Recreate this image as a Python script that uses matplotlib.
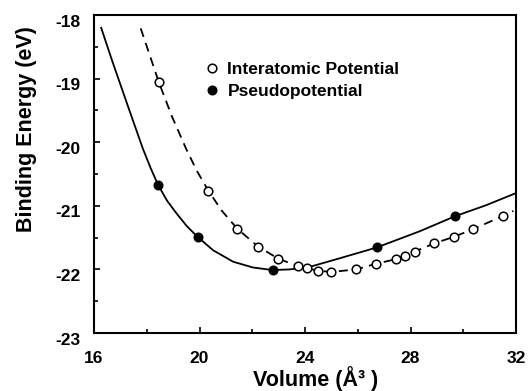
import matplotlib
matplotlib.use("Agg")
import matplotlib.pyplot as plt
import matplotlib.transforms as mtransforms
from matplotlib.lines import Line2D

plt.rcParams['font.family'] = ['Liberation Sans', 'DejaVu Sans']
plt.rcParams['font.weight'] = 'bold'
plt.rcParams['axes.unicode_minus'] = False

# Interatomic potential (open circles) data
ip_vol = [18.46, 20.33, 21.43, 22.22, 22.98, 23.74, 24.08, 24.48, 25.0, 25.94,
          26.70, 27.44, 27.80, 28.16, 28.90, 29.63, 30.36, 31.50]
ip_en = [-19.06, -20.76, -21.36, -21.64, -21.83, -21.95, -21.98, -22.02, -22.04, -22.00,
         -21.91, -21.84, -21.79, -21.72, -21.59, -21.49, -21.37, -21.16]

# Dashed fitted curve
ip_fit_vol = [17.77, 18.46, 18.96, 19.51, 19.90, 20.33, 20.85, 21.43, 22.22, 22.98,
              23.74, 24.48, 25.0, 25.94, 26.70, 27.44, 28.16, 28.90, 29.63, 30.36,
              31.50, 31.90]
ip_fit_en = [-18.21, -19.06, -19.60, -20.12, -20.45, -20.76, -21.08, -21.36, -21.64, -21.83,
             -21.95, -22.02, -22.04, -22.00, -21.91, -21.84, -21.72, -21.59, -21.49, -21.37,
             -21.16, -21.08]

# Pseudopotential (filled circles) data
pp_vol = [18.44, 19.93, 22.77, 26.72, 29.68]
pp_en = [-20.68, -21.49, -22.01, -21.655, -21.165]

# Solid fitted curve
pp_fit_vol = [16.27, 16.68, 17.14, 17.52, 17.86, 18.16, 18.44, 18.77, 19.13, 19.52,
              19.93, 20.52, 21.28, 22.03, 22.77, 23.42, 24.18, 25.19, 26.72, 28.35,
              29.68, 30.87, 32.0]
pp_fit_en = [-18.20, -18.71, -19.26, -19.71, -20.11, -20.42, -20.68, -20.92, -21.12, -21.32,
             -21.49, -21.70, -21.88, -21.97, -22.01, -22.00, -21.96, -21.84, -21.655, -21.40,
             -21.165, -20.99, -20.80]

legend_labels = ['Interatomic Potential', 'Pseudopotential']

fig = plt.figure(figsize=(5.30, 3.91), dpi=100)
ax = fig.add_axes([0.1774, 0.1483, 0.7962, 0.8133])

ax.plot(pp_fit_vol, pp_fit_en, color='black', lw=1.3, solid_joinstyle='round')
ax.plot(ip_fit_vol, ip_fit_en, color='black', lw=1.3, dashes=(5, 3.5))
ax.plot(ip_vol, ip_en, 'o', ms=6.2, mfc='white', mec='black', mew=1.1, ls='none')
ax.plot(pp_vol, pp_en, 'o', ms=6.2, mfc='black', mec='black', ls='none')

ax.set_xlim(16, 32)
ax.set_ylim(-23, -18)
ax.set_xticks([16, 20, 24, 28, 32])
ax.set_xticks([18, 22, 26, 30], minor=True)
ax.set_yticks([-23, -22, -21, -20, -19, -18])
ax.set_yticks([-22.5, -21.5, -20.5, -19.5, -18.5], minor=True)
ax.tick_params(which='both', direction='in', width=1.2, labelsize=12.5)
ax.tick_params(which='minor', length=3)
ax.tick_params(axis='x', which='major', length=4, pad=13)
ax.tick_params(axis='y', which='major', length=4, pad=10)
offset = mtransforms.ScaledTranslation(0, -5.5 / 100, fig.dpi_scale_trans)
for lab in ax.get_yticklabels():
    lab.set_transform(lab.get_transform() + offset)
for lab in ax.get_xticklabels() + ax.get_yticklabels():
    lab.set_fontweight('bold')
for s in ax.spines.values():
    s.set_linewidth(1.5)

ax.set_xlabel('Volume (Å³ )', fontsize=15.5, fontweight='bold')
ax.set_ylabel('Binding Energy (eV)', fontsize=15.5, fontweight='bold')
ax.xaxis.label.set_va('baseline')
ax.yaxis.label.set_va('baseline')
ax.xaxis.set_label_coords(0.524, -0.166)
ax.yaxis.set_label_coords(-0.148, 0.64)

handles = [Line2D([], [], marker='o', ls='none', ms=6.2, mfc='white', mec='black', mew=1.1),
           Line2D([], [], marker='o', ls='none', ms=6.2, mfc='black', mec='black')]
leg = ax.legend(handles, legend_labels, loc='upper left', bbox_to_anchor=(0.238, 0.875),
                frameon=False, prop={'weight': 'bold', 'size': 12.5},
                handletextpad=0.3, labelspacing=0.4, handlelength=1.2, borderaxespad=0)

fig.savefig('out.png', dpi=100)
